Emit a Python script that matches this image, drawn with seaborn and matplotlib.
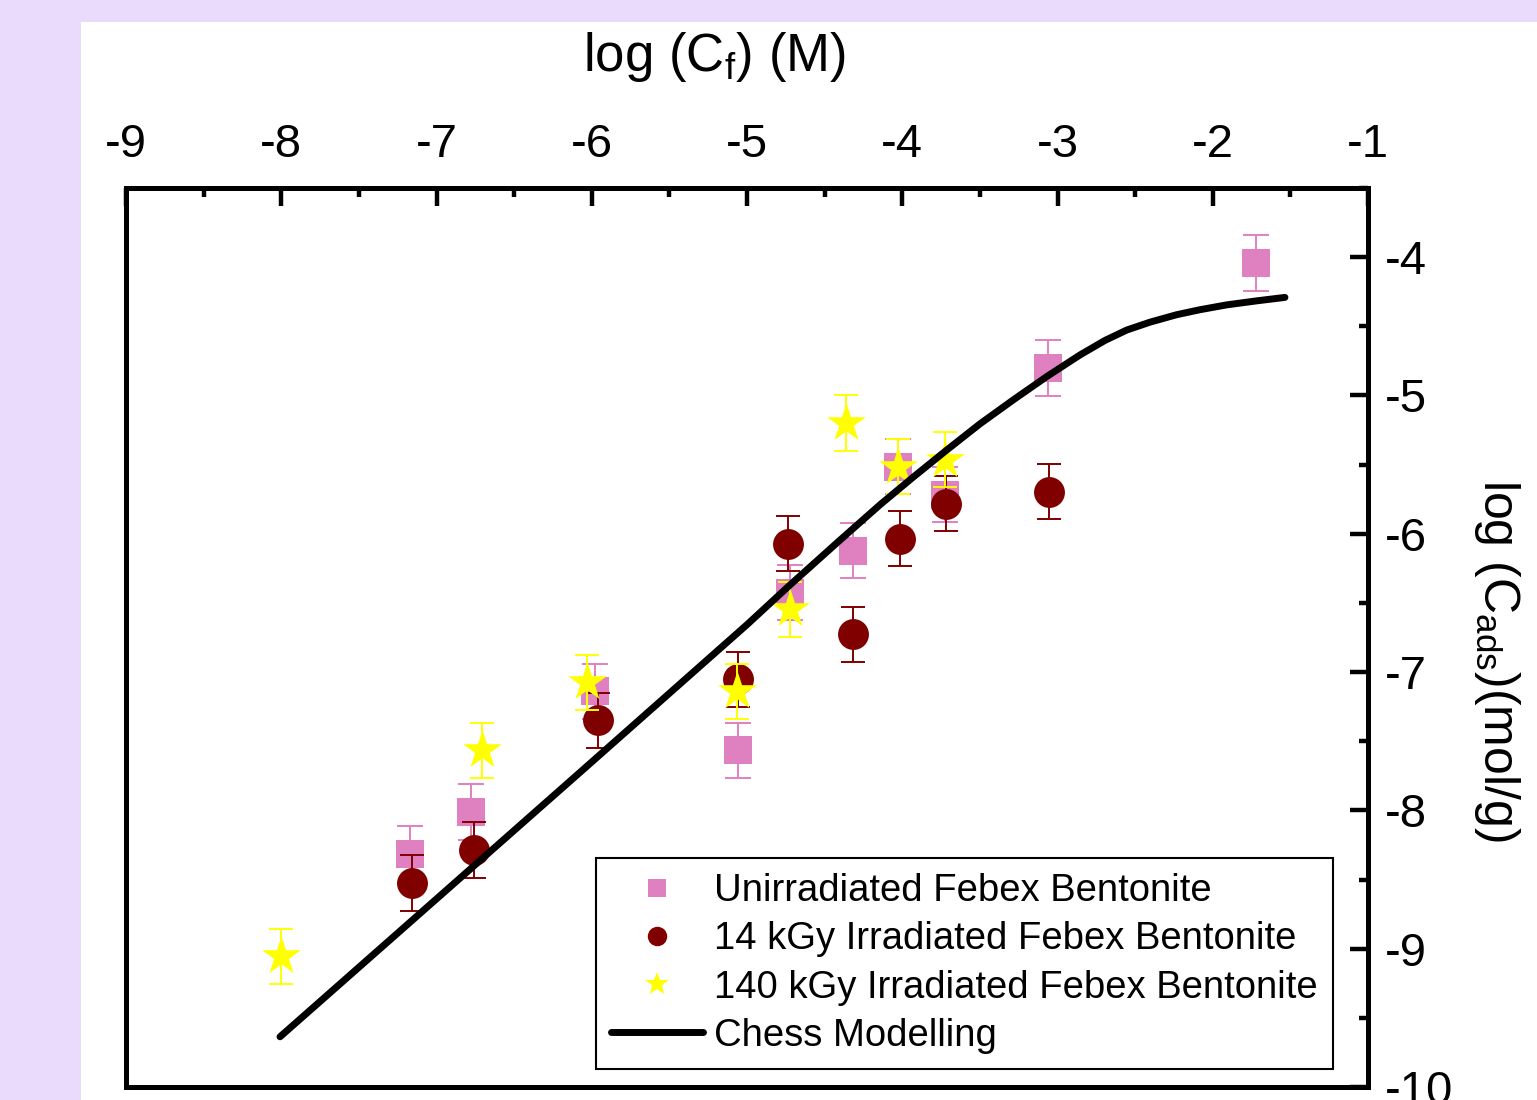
import matplotlib
matplotlib.use("Agg")
import matplotlib.pyplot as plt
from matplotlib.lines import Line2D
from matplotlib.patches import Rectangle
from matplotlib.ticker import MultipleLocator
import seaborn as sns
import pandas as pd

# ---- data ----
unirr_x = [-7.171, -6.778, -5.979, -5.058, -4.723, -4.317, -4.027, -3.725, -3.061, -1.721]
unirr_y = [-8.315, -8.012, -7.139, -7.565, -6.425, -6.122, -5.515, -5.717, -4.801, -4.043]
unirr_err = [0.2] * 10

kgy14_x = [-7.158, -6.758, -5.960, -5.058, -4.736, -4.317, -4.014, -3.718, -3.054]
kgy14_y = [-8.524, -8.286, -7.348, -7.052, -6.071, -6.727, -6.035, -5.782, -5.696]
kgy14_err = [0.2] * 9

kgy140_x = [-8.003, -6.707, -6.031, -5.064, -4.723, -4.362, -4.027, -3.725]
kgy140_y = [-9.055, -7.565, -7.074, -7.139, -6.547, -5.198, -5.515, -5.465]
kgy140_err = [0.2] * 8

chess_x = [-8.008, -7.0, -6.0, -5.0, -4.723, -4.400, -4.143, -3.929, -3.714, -3.499,
           -3.285, -3.070, -2.855, -2.694, -2.554, -2.404, -2.232, -2.082, -1.910,
           -1.717, -1.535]
chess_y = [-9.637, -8.64, -7.65, -6.657, -6.37, -6.045, -5.790, -5.590, -5.395, -5.205,
           -5.032, -4.864, -4.707, -4.602, -4.527, -4.470, -4.416, -4.380, -4.345,
           -4.316, -4.291]

labels = ["Unirradiated Febex Bentonite", "14 kGy Irradiated Febex Bentonite",
          "140 kGy Irradiated Febex Bentonite", "Chess Modelling"]

PINK = "#DF80C0"
DRED = "#800000"
YEL = "#FFFF00"
LAV = "#EADBFC"

sns.set_style("ticks")
plt.rcParams["font.family"] = ["Liberation Sans", "DejaVu Sans"]
plt.rcParams["mathtext.fontset"] = "custom"
plt.rcParams["mathtext.rm"] = "Liberation Sans"
plt.rcParams["mathtext.it"] = "Liberation Sans:italic"
plt.rcParams["axes.unicode_minus"] = False
plt.rcParams["text.color"] = "black"
plt.rcParams["axes.labelcolor"] = "black"
plt.rcParams["xtick.color"] = "black"
plt.rcParams["ytick.color"] = "black"

fig = plt.figure(figsize=(15.37, 11.0), dpi=100, facecolor=LAV)
fig.add_artist(Rectangle((81 / 1537, 0), 1 - 81 / 1537, 1 - 22 / 1100,
                         transform=fig.transFigure, facecolor="white",
                         edgecolor="none", zorder=-10))

ax = fig.add_axes([126 / 1537, 1 - 1087 / 1100, (1368 - 126) / 1537, (1087 - 188) / 1100])
ax.set_facecolor("white")

df_u = pd.DataFrame({"x": unirr_x, "y": unirr_y, "e": unirr_err})
df_14 = pd.DataFrame({"x": kgy14_x, "y": kgy14_y, "e": kgy14_err})
df_140 = pd.DataFrame({"x": kgy140_x, "y": kgy140_y, "e": kgy140_err})
df_c = pd.DataFrame({"x": chess_x, "y": chess_y})

series = [(df_u, PINK, "s", 420, 9.3), (df_14, DRED, "o", 495, 8.4), (df_140, YEL, "*", 860, 8.4)]
z = 2
for df, col, mk, sz, cap in series:
    ax.errorbar(df["x"], df["y"], yerr=df["e"], fmt="none", ecolor=col,
                elinewidth=1.4, capsize=cap, capthick=1.4, zorder=z)
    sns.scatterplot(data=df, x="x", y="y", ax=ax, color=col, marker=mk, s=sz,
                    linewidth=0, legend=False, zorder=z + 0.5)
    z += 1

sns.lineplot(data=df_c, x="x", y="y", ax=ax, color="black", linewidth=5,
             sort=False, estimator=None, legend=False, zorder=10,
             solid_capstyle="round", solid_joinstyle="round")

ax.set_xlim(-9, -1)
ax.set_ylim(-10, -3.5)

ax.xaxis.tick_top()
ax.xaxis.set_label_position("top")
ax.yaxis.tick_right()
ax.yaxis.set_label_position("right")
ax.xaxis.set_major_locator(MultipleLocator(1))
ax.xaxis.set_minor_locator(MultipleLocator(0.5))
ax.yaxis.set_major_locator(MultipleLocator(1))
ax.yaxis.set_minor_locator(MultipleLocator(0.5))
ax.set_yticks([-10, -9, -8, -7, -6, -5, -4])

ax.tick_params(axis="both", which="major", direction="in", length=13, width=3.2,
               color="black", labelsize=34, labelcolor="black")
ax.tick_params(axis="both", which="minor", direction="in", length=6.5, width=3.2,
               color="black")
ax.tick_params(axis="x", which="both", top=True, bottom=False, labeltop=True,
               labelbottom=False, pad=15)
ax.tick_params(axis="y", which="both", right=True, left=False, labelright=True,
               labelleft=False, pad=12)

for sp in ax.spines.values():
    sp.set_visible(True)
    sp.set_linewidth(3.6)
    sp.set_color("black")

ax.set_xlabel(r"log (C$_{\mathregular{f}}$) (M)", fontsize=38, va="center", ha="center",
              color="black")
ax.xaxis.set_label_coords((714 - 126) / 1242, (1087 - 57) / 899)
ax.set_ylabel(r"log (C$_{\mathregular{ads}}$)(mol/g)", fontsize=36, rotation=270,
              va="center", ha="center", color="black")
ax.yaxis.set_label_coords((1497 - 126) / 1242, (1087 - 660) / 899)

handles = [
    Line2D([], [], marker="s", color=PINK, ls="none", ms=13, mew=0),
    Line2D([], [], marker="o", color=DRED, ls="none", ms=14, mew=0),
    Line2D([], [], marker="*", color=YEL, ls="none", ms=18, mew=0),
    Line2D([], [], color="black", lw=5, solid_capstyle="round"),
]
leg = ax.legend(handles, labels, loc="lower right",
                bbox_to_anchor=((1333 - 126) / 1242, (1087 - 1069) / 899),
                borderaxespad=0, fontsize=27.5, frameon=True, fancybox=False,
                framealpha=1, edgecolor="black", handlelength=2.4,
                handletextpad=0.3, labelspacing=0.32, borderpad=0.4)
leg.get_frame().set_linewidth(1.5)
leg.set_zorder(20)
for t in leg.get_texts():
    t.set_color("black")

fig.savefig("out.png", dpi=100, facecolor=LAV)
